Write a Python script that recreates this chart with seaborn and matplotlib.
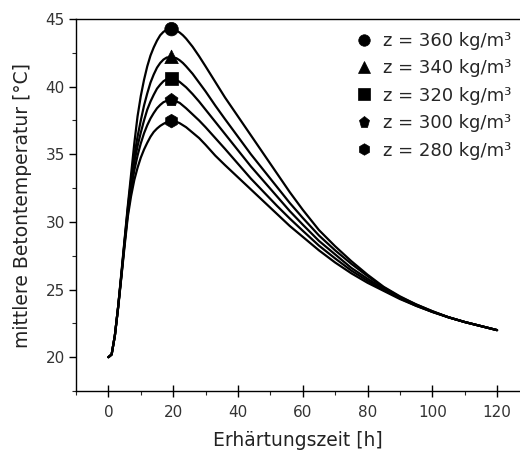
import numpy as np
import pandas as pd
import matplotlib
matplotlib.use("Agg")
import matplotlib.pyplot as plt
from matplotlib.ticker import MultipleLocator
import seaborn as sns

# ---- data ----
zeit_h = [0, 1, 2, 3, 4, 5, 6, 7, 8, 9, 10, 11, 12, 13, 14, 15, 16, 17, 18, 19.5,
          21, 22, 23, 24, 26, 28, 30, 33, 36, 40, 44, 48, 52, 56, 60, 65, 70, 75,
          80, 85, 90, 95, 100, 105, 110, 115, 120]

temp_360 = [20.0, 20.2, 21.6, 23.7, 26.2, 28.7, 31.2, 33.5, 35.8, 37.8, 39.3, 40.5, 41.5,
            42.3, 42.9, 43.4, 43.8, 44.05, 44.2, 44.25, 44.15, 44.0, 43.8, 43.55, 42.95,
            42.25, 41.5, 40.35, 39.2, 37.8, 36.4, 35.0, 33.6, 32.2, 30.9, 29.4, 28.2,
            27.1, 26.1, 25.2, 24.5, 23.9, 23.4, 22.95, 22.6, 22.3, 22.0]
temp_340 = [20.0, 20.2, 21.6, 23.7, 26.1, 28.6, 31.0, 33.1, 34.9, 36.3, 37.5, 38.6, 39.5,
            40.3, 40.9, 41.4, 41.75, 42.0, 42.15, 42.2, 42.1, 41.95, 41.75, 41.5, 40.95,
            40.3, 39.65, 38.6, 37.6, 36.3, 35.0, 33.8, 32.6, 31.4, 30.3, 29.0, 27.9,
            26.9, 26.0, 25.15, 24.45, 23.9, 23.4, 22.95, 22.6, 22.3, 22.0]
temp_320 = [20.0, 20.2, 21.6, 23.7, 26.0, 28.5, 30.8, 32.8, 34.4, 35.6, 36.6, 37.5, 38.3,
            38.9, 39.4, 39.85, 40.15, 40.4, 40.55, 40.6, 40.5, 40.35, 40.15, 39.95, 39.45,
            38.9, 38.3, 37.4, 36.5, 35.3, 34.1, 33.0, 31.9, 30.8, 29.8, 28.6, 27.6,
            26.6, 25.8, 25.05, 24.4, 23.85, 23.35, 22.95, 22.6, 22.3, 22.0]
temp_300 = [20.0, 20.2, 21.6, 23.7, 26.0, 28.4, 30.6, 32.4, 33.8, 34.9, 35.8, 36.55, 37.15,
            37.65, 38.05, 38.4, 38.65, 38.85, 38.95, 39.0, 38.9, 38.8, 38.6, 38.4, 37.95,
            37.5, 37.0, 36.2, 35.4, 34.3, 33.2, 32.2, 31.2, 30.25, 29.35, 28.25, 27.3,
            26.4, 25.65, 24.95, 24.35, 23.8, 23.35, 22.95, 22.6, 22.3, 22.0]
temp_280 = [20.0, 20.2, 21.6, 23.6, 25.9, 28.2, 30.4, 31.9, 33.1, 34.0, 34.75, 35.35, 35.85,
            36.3, 36.65, 36.9, 37.1, 37.25, 37.37, 37.45, 37.4, 37.3, 37.15, 37.0, 36.6,
            36.2, 35.7, 34.9, 34.2, 33.3, 32.4, 31.5, 30.6, 29.7, 28.9, 27.9, 27.0,
            26.2, 25.5, 24.9, 24.3, 23.8, 23.35, 22.95, 22.6, 22.3, 22.0]

labels = ["z = 360 kg/m³", "z = 340 kg/m³", "z = 320 kg/m³", "z = 300 kg/m³", "z = 280 kg/m³"]
series = [temp_360, temp_340, temp_320, temp_300, temp_280]
marker_styles = ["o", "^", "s", "p", "h"]

x_ticks = [0, 20, 40, 60, 80, 100, 120]
y_ticks = [20, 25, 30, 35, 40, 45]

# ---- build long-form table ----
frames = []
for lab, vals in zip(labels, series):
    assert len(vals) == len(zeit_h)
    frames.append(pd.DataFrame({"t": zeit_h, "T": vals, "z": lab}))
df = pd.concat(frames, ignore_index=True)
peaks = df.loc[df.groupby("z")["T"].idxmax()]

sns.set_style("ticks")
plt.rcParams["font.family"] = ["DejaVu Sans"]

fig = plt.figure(figsize=(5.20, 4.62), dpi=100)
ax = fig.add_axes([76 / 520, (462 - 391) / 462, 1 - 76 / 520, (391 - 19) / 462])

black = ["black"] * len(labels)
sns.lineplot(data=df, x="t", y="T", hue="z", hue_order=labels, palette=black,
             linewidth=1.6, legend=False, ax=ax, estimator=None, sort=False)
sns.scatterplot(data=peaks, x="t", y="T", hue="z", style="z", hue_order=labels,
                style_order=labels, palette=black,
                markers=dict(zip(labels, marker_styles)), s=95,
                edgecolor="black", linewidth=0.5, ax=ax, legend=True, zorder=5)

old = ax.get_legend()
handles = list(old.legend_handles)
texts = [t.get_text() for t in old.texts]
old.remove()
pairs = [(h, t) for h, t in zip(handles, texts) if t in labels]
leg = ax.legend([p[0] for p in pairs], [p[1] for p in pairs],
                loc="upper left", bbox_to_anchor=(355 / 520, 1 - 32 / 462),
                bbox_transform=fig.transFigure, frameon=False, fontsize=13,
                borderpad=0, borderaxespad=0, handlelength=1.0, handletextpad=0.55,
                labelspacing=0.52, markerscale=0.85)

ax.set_xlim(-10, (520 - 108) / 3.242)
ax.set_ylim(17.5, 45)
ax.set_xticks(x_ticks)
ax.set_yticks(y_ticks)
ax.xaxis.set_minor_locator(MultipleLocator(10))
ax.yaxis.set_minor_locator(MultipleLocator(2.5))
ax.tick_params(axis="x", which="major", direction="inout", length=8, width=1,
               labelsize=11, pad=6, colors="black", labelcolor="#333333")
ax.tick_params(axis="y", which="major", direction="out", length=5, width=1,
               labelsize=11, pad=3, colors="black", labelcolor="#333333")
ax.tick_params(axis="both", which="minor", direction="out", length=3, width=0.8)

for side in ["left", "bottom", "top"]:
    ax.spines[side].set_visible(True)
    ax.spines[side].set_linewidth(1.0)
    ax.spines[side].set_color("black")
ax.spines["right"].set_visible(False)

ax.set_xlabel("Erhärtungszeit [h]", fontsize=13.5, color="#222222", labelpad=8)
ax.set_ylabel("mittlere Betontemperatur [°C]", fontsize=13.5, color="#222222", labelpad=10)

fig.savefig("out.png", dpi=100)
